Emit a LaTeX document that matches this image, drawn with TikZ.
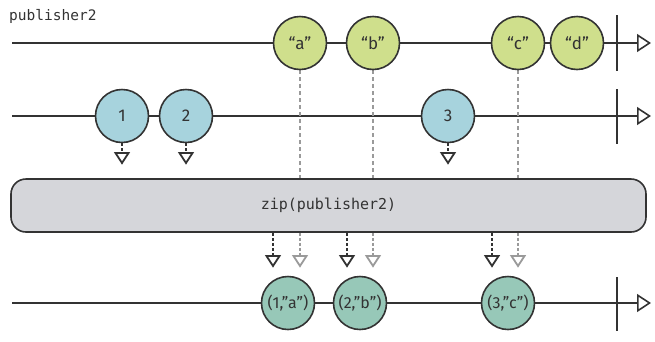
\documentclass[tikz,border=0pt]{standalone}
\usepackage{fontspec}
\setmainfont{Fira Sans}
\setmonofont{DejaVu Sans Mono}
\usetikzlibrary{arrows.meta,backgrounds}
\definecolor{ink}{HTML}{333333}
\definecolor{grn}{HTML}{CFDF8C}
\definecolor{blu}{HTML}{A7D3DD}
\definecolor{tea}{HTML}{97C8B8}
\definecolor{boxg}{HTML}{D5D6DA}
\definecolor{gry}{HTML}{9A9A9A}
\begin{document}
\begin{tikzpicture}[x=1pt,y=-1pt,
  marble/.style={circle,draw=ink,line width=1.6pt,minimum size=53pt,inner sep=0pt,
    font=\fontsize{17}{17}\selectfont,text=ink},
  gm/.style={marble,fill=grn},
  bm/.style={marble,fill=blu},
  tm/.style={marble,fill=tea,font=\fontsize{16}{16}\selectfont},
  tline/.style={draw=ink,line width=1.6pt,-{Triangle[open,length=14pt,width=18pt,line width=1.6pt]}},
  endbar/.style={draw=ink,line width=1.6pt},
  stemk/.style={draw=ink,line width=1.6pt,dash pattern=on 3pt off 2pt,shorten >=10pt},
  stemg/.style={stemk,draw=gry},
  trik/.style={draw=ink,line width=1.8pt,line join=miter,fill=white},
  trig/.style={trik,draw=gry},
  gdash/.style={draw=gry,line width=1.1pt,dash pattern=on 4pt off 3pt},
  opbox/.style={draw=ink,fill=boxg,line width=1.6pt,rounded corners=15pt,
    minimum width=635pt,minimum height=53pt,inner sep=0pt,
    font=\ttfamily\fontsize{15}{15}\selectfont,text=ink},
  lbl/.style={font=\ttfamily\fontsize{14.5}{14.5}\selectfont,text=ink,inner sep=0pt,anchor=west}
]
\useasboundingbox (0,0) rectangle (655,341);

% label
\node[lbl] (title) at (9,16) {publisher2};

% timeline 1
\coordinate (s1) at (12,43);
\coordinate (e1) at (651,43);
\coordinate (b1t) at (617,15);
\coordinate (b1b) at (617,71);
\node[gm] (a) at (300,43) {“a”};
\node[gm] (b) at (373,43) {“b”};
\node[gm] (c) at (518,43) {“c”};
\node[gm] (d) at (577,43) {“d”};

% timeline 2
\coordinate (s2) at (12,116);
\coordinate (e2) at (651,116);
\coordinate (b2t) at (617,89);
\coordinate (b2b) at (617,144);
\node[bm] (n1) at (122,116) {1};
\node[bm] (n2) at (186,116) {2};
\node[bm] (n3) at (448,116) {3};

% operator box
\node[opbox] (zip) at (328.5,205.5) {zip(publisher2)};

% output timeline
\coordinate (s3) at (12,303);
\coordinate (e3) at (651,303);
\coordinate (b3t) at (617,277);
\coordinate (b3b) at (617,331);
\node[tm] (o1) at (288,303) {(1,”a”)};
\node[tm] (o2) at (360,303) {(2,”b”)};
\node[tm] (o3) at (508,303) {(3,”c”)};

% tip coordinates
\coordinate (t1) at (122,163);
\coordinate (t2) at (186,163);
\coordinate (t3) at (448,163);
\coordinate (k1) at (273,266);
\coordinate (k2) at (347,266);
\coordinate (k3) at (492,266);
\coordinate (g1) at (300,266);
\coordinate (g2) at (373,266);
\coordinate (g3) at (518,266);

\begin{scope}[on background layer]
  \draw[tline] (s1) -- (e1);
  \draw[tline] (s2) -- (e2);
  \draw[tline] (s3) -- (e3);
  \draw[endbar] (b1t) -- (b1b);
  \draw[endbar] (b2t) -- (b2b);
  \draw[endbar] (b3t) -- (b3b);
  \draw[gdash] (a.south) -- (a.south |- zip.north);
  \draw[gdash] (b.south) -- (b.south |- zip.north);
  \draw[gdash] (c.south) -- (c.south |- zip.north);
\end{scope}

\draw[stemk] (n1.south) -- (t1);
\draw[stemk] (n2.south) -- (t2);
\draw[stemk] (n3.south) -- (t3);
\draw[stemk] (k1 |- zip.south) -- (k1);
\draw[stemk] (k2 |- zip.south) -- (k2);
\draw[stemk] (k3 |- zip.south) -- (k3);
\draw[stemg] (g1 |- zip.south) -- (g1);
\draw[stemg] (g2 |- zip.south) -- (g2);
\draw[stemg] (g3 |- zip.south) -- (g3);

\foreach \t in {t1,t2,t3,k1,k2,k3}
  \draw[trik] (\t) -- ++(-6.5,-10) -- ++(13,0) -- cycle;
\foreach \t in {g1,g2,g3}
  \draw[trig] (\t) -- ++(-6.5,-10) -- ++(13,0) -- cycle;
\end{tikzpicture}
\end{document}
